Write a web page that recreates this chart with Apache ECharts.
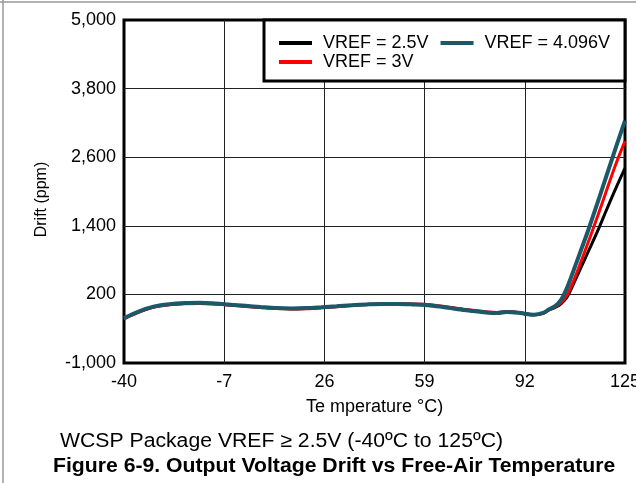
<!DOCTYPE html>
<html>
<head>
<meta charset="utf-8">
<script src="https://cdn.jsdelivr.net/npm/echarts@6/dist/echarts.min.js"></script>
<style>
html,body{margin:0;padding:0;background:#fff;}
#chart{width:636px;height:483px;}
</style>
</head>
<body>
<div id="chart"></div>
<script>
// Temperature (°C)
const temps = [-40,-35,-30,-25,-20,-15,-10,-5,0,5,10,15,20,25,30,35,40,45,50,55,60,65,70,75,80,83,86,90,95,98,100,102,104,106,108,110,113,116,119,122,125];
// Drift (ppm)
const vref25 = [-220,-100,-15,25,42,48,36,16,-4,-24,-42,-50,-45,-30,-12,8,22,30,32,26,14,-16,-52,-85,-115,-120,-104,-120,-158,-132,-72,-28,40,160,380,610,960,1310,1690,2060,2410];
const vref3 = [-230,-110,-22,18,36,42,30,10,-10,-30,-48,-55,-50,-35,-15,5,22,32,36,32,22,-8,-45,-78,-108,-115,-98,-115,-158,-130,-68,-20,60,200,430,700,1130,1570,2030,2480,2880];
const vref4096 = [-215,-95,-10,30,48,52,40,20,0,-20,-38,-45,-40,-25,-8,12,25,32,32,25,12,-20,-58,-90,-120,-125,-108,-122,-155,-125,-60,-5,110,330,610,900,1340,1810,2290,2770,3240];
const seriesNames = ['VREF = 2.5V','VREF = 3V','VREF = 4.096V'];
const xTicks = [-40,-7,26,59,92,125];
const yTicks = [-1000,200,1400,2600,3800,5000];
const xTitle = 'Te mperature °C)';
const yTitle = 'Drift (ppm)';
const caption1 = 'WCSP Package VREF ≥ 2.5V (-40ºC to 125ºC)';
const caption2 = 'Figure 6-9. Output Voltage Drift vs Free-Air Temperature';

const FONT = '"Liberation Sans", Arial, sans-serif';
const pair = arr => temps.map((t,i)=>[t,arr[i]]);

const chart = echarts.init(document.getElementById('chart'), null, {renderer:'canvas'});
chart.setOption({
  animation:false,
  backgroundColor:'#fff',
  textStyle:{fontFamily:FONT},
  grid:{left:124,right:11,top:20,bottom:120,containLabel:false,outerBoundsMode:'none',show:true,borderColor:'#000',borderWidth:3,backgroundColor:'transparent'},
  xAxis:{
    type:'value',min:xTicks[0],max:xTicks[xTicks.length-1],interval:xTicks[1]-xTicks[0],
    name:xTitle,nameLocation:'middle',nameGap:35,
    nameTextStyle:{color:'#000',fontSize:18,fontFamily:FONT},
    axisLine:{show:false},axisTick:{show:false},
    axisLabel:{color:'#000',fontSize:18,fontFamily:FONT,margin:10},
    splitLine:{show:true,showMinLine:false,showMaxLine:false,lineStyle:{color:'#222',width:1}}
  },
  yAxis:{
    type:'value',min:yTicks[0],max:yTicks[yTicks.length-1],interval:yTicks[1]-yTicks[0],
    name:yTitle,nameLocation:'middle',nameGap:74,nameRotate:90,
    nameTextStyle:{color:'#000',fontSize:16,fontFamily:FONT,padding:[0,16,0,0]},
    axisLine:{show:false},axisTick:{show:false},
    axisLabel:{color:'#000',fontSize:18,fontFamily:FONT,margin:8,formatter:v=>v.toLocaleString('en-US')},
    splitLine:{show:true,showMinLine:false,showMaxLine:false,lineStyle:{color:'#222',width:1}}
  },
  legend:[
    {data:[seriesNames[0],seriesNames[2]],left:279,top:33,padding:0,itemGap:12,icon:'rect',itemWidth:33,itemHeight:4,
     textStyle:{color:'#000',fontSize:18,fontFamily:FONT,lineHeight:20,padding:[0,0,0,6]}},
    {data:[seriesNames[1]],left:279,top:52,padding:0,icon:'rect',itemWidth:33,itemHeight:4,
     textStyle:{color:'#000',fontSize:18,fontFamily:FONT,lineHeight:20,padding:[0,0,0,6]}}
  ],
  graphic:[
    {type:'rect',z:3,shape:{x:264,y:20,width:361,height:61},style:{fill:'#fff',stroke:'#000',lineWidth:3}},
    {type:'line',z:10,shape:{x1:3,y1:0,x2:3,y2:483},style:{stroke:'#999',lineWidth:1.5}},
    {type:'line',z:10,shape:{x1:0,y1:2,x2:636,y2:2},style:{stroke:'#999',lineWidth:1.5}},
    {type:'text',z:10,x:60,y:441,scaleX:1.06,style:{x:0,y:0,text:caption1,fill:'#000',font:'20px '+FONT,textAlign:'left',textVerticalAlign:'middle',verticalAlign:'middle'}},
    {type:'text',z:10,x:53,y:466,scaleX:1.06,style:{x:0,y:0,text:caption2,fill:'#000',font:'bold 20px '+FONT,textAlign:'left',textVerticalAlign:'middle',verticalAlign:'middle'}}
  ],
  series:[
    {name:seriesNames[0],type:'line',data:pair(vref25),smooth:0.35,showSymbol:false,z:2,lineStyle:{color:'#000',width:3},itemStyle:{color:'#000'}},
    {name:seriesNames[1],type:'line',data:pair(vref3),smooth:0.35,showSymbol:false,z:2,lineStyle:{color:'#ff0000',width:3},itemStyle:{color:'#ff0000'}},
    {name:seriesNames[2],type:'line',data:pair(vref4096),smooth:0.35,showSymbol:false,z:2,lineStyle:{color:'#1b5868',width:4},itemStyle:{color:'#1b5868'}}
  ]
});
</script>
</body>
</html>
